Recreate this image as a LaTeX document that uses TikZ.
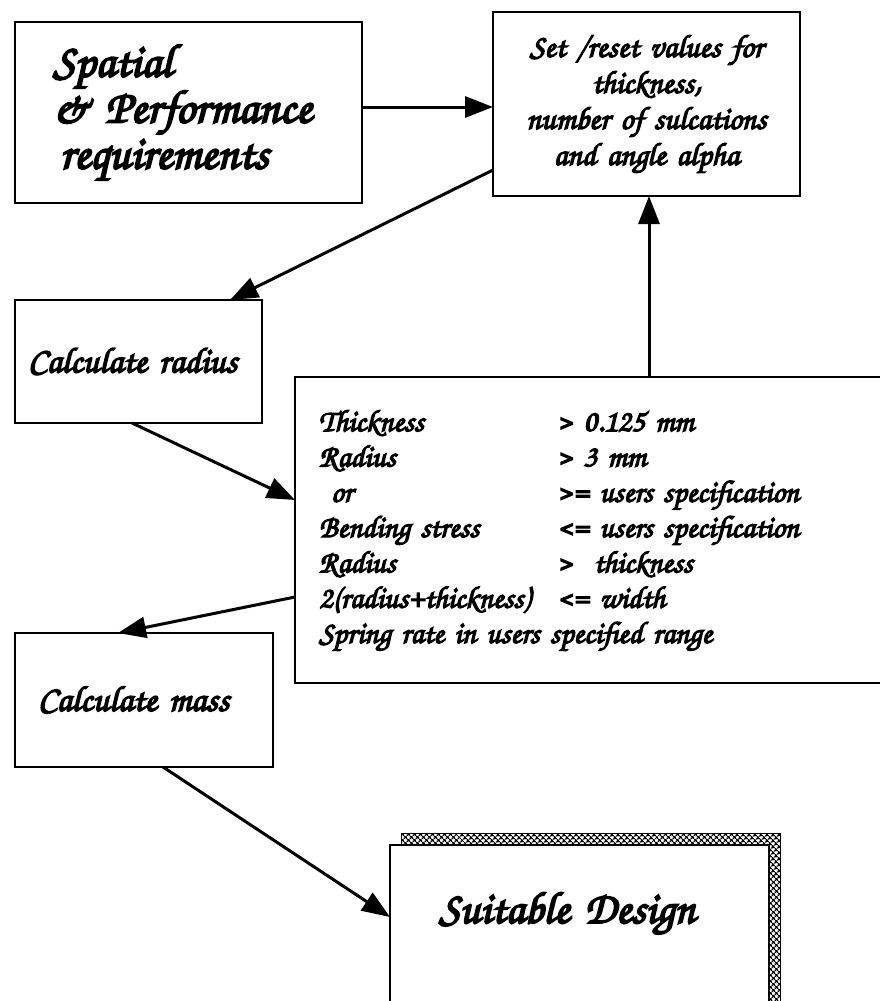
\documentclass[tikz,border=0pt]{standalone}
\usepackage{fontspec}
\newfontfamily\chancery{TeX Gyre Chorus}[FakeBold=4]
\usetikzlibrary{%
	positioning,
	calc,
	arrows.meta,
	patterns.meta,
	shadows
}
\begin{document}
\begin{tikzpicture}[x=1pt,y=1pt,
		SBox/.style={draw,shape=rectangle,line width=2.5pt,fill=white,inner sep=0pt,outer sep=0pt,align=left},
		flow/.style={-{Triangle[length=28pt,width=21pt]},line width=3pt},
		stack/.style={general shadow={shadow xshift=11pt,shadow yshift=12pt,draw,line width=1pt,pattern={Hatch[angle=45,distance=4pt,line width=1.3pt]}}}
	]
	\useasboundingbox (0,0) rectangle (880,-1001);
	
	%inputs
	\node(spatial) [SBox, anchor=north west, minimum height=181pt, text width=271pt, inner xsep=38pt, font=\chancery\bfseries\fontsize{47}{46}\selectfont] at (15,-22) {Spatial\\ \& Performance\\ \hspace{7pt}requirements};
	\node(setval) [SBox, above right=10pt and 131pt of spatial.north east, anchor=north west, minimum height=184pt, text width=307pt, align=center, font=\chancery\bfseries\fontsize{32}{36}\selectfont] {Set /reset values for\\ thickness,\\ number of sulcations\\ and angle alpha};
	
	%calculations
	\node(radius) [SBox, below=97pt of spatial.south west, anchor=north west, minimum height=123pt, text width=221pt, inner xsep=13pt, font=\chancery\bfseries\fontsize{36}{40}\selectfont] {Calculate radius};
	\node(checks) [SBox, below right=77pt and 33pt of radius.north east, minimum height=306pt, text width=552pt, inner xsep=24pt, font=\chancery\bfseries\fontsize{31}{35.3}\selectfont] {%
		\begin{tabular}{@{}p{238pt}@{}l@{}}
			Thickness & > 0.125 mm\\
			Radius & > 3 mm\\
			\hspace{12pt}or & >= users specification\\
			Bending stress & <= users specification\\
			Radius & > \ thickness\\
			2(radius+thickness) & <= width\\
			\multicolumn{2}{@{}l@{}}{Spring rate in users specified range}
		\end{tabular}};
	\node(mass) [SBox, below=210pt of radius.south west, anchor=north west, minimum height=134pt, text width=212pt, inner xsep=23pt, font=\chancery\bfseries\fontsize{36}{40}\selectfont] {Calculate mass};
	
	%result
	\node(suitable) [SBox, stack, below right=78pt and 117pt of mass.south east, text width=281pt, inner xsep=49pt, inner ysep=8pt, text height=70pt, text depth=120pt, font=\chancery\bfseries\fontsize{45}{50}\selectfont] {Suitable Design};
	
	%connectors
	\coordinate (req-out) at ([yshift=-85pt]spatial.north east);
	\coordinate (chk-up) at ([xshift=354pt]checks.north west);
	\draw [flow] (req-out) -- (req-out -| setval.west);
	\draw [flow] ([yshift=-158pt]setval.north west) -- ([xshift=215pt]radius.north west);
	\draw [flow] ([xshift=117pt]radius.south west) -- ([yshift=-123pt]checks.north west);
	\draw [flow] (chk-up) -- (chk-up |- setval.south);
	\draw [flow] ([yshift=-220pt]checks.north west) -- ([xshift=103pt]mass.north west);
	\draw [flow] ([xshift=148pt]mass.south west) -- ([yshift=-72pt]suitable.north west);
	
\end{tikzpicture}
\end{document}
